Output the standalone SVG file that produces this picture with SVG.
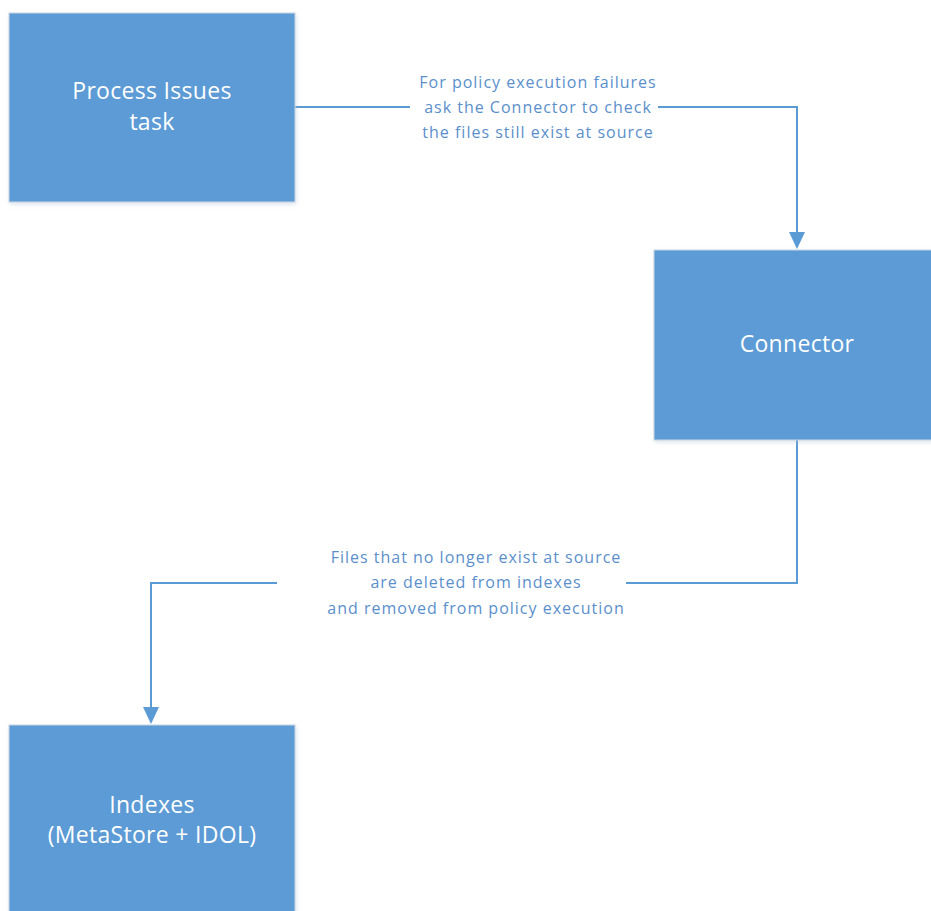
<svg xmlns="http://www.w3.org/2000/svg" width="931" height="911" viewBox="0 0 931 911">
<defs>
<style>
.node{fill:#5b9bd5;stroke:#c9d6e3;stroke-width:1}
.nt{font-family:"Open Sans","Noto Sans",sans-serif;font-size:23px;letter-spacing:0.3px;fill:#ffffff;text-anchor:middle}
.lbl{font-family:"Open Sans","Noto Sans",sans-serif;font-size:16px;letter-spacing:1px;fill:#5b8fcc;text-anchor:middle}
.edge{fill:none;stroke:#5b9bd5;stroke-width:2}
</style>
<filter id="sh" x="-10%" y="-10%" width="120%" height="120%">
<feDropShadow dx="1" dy="2" stdDeviation="2" flood-color="#9fb6cc" flood-opacity="0.35"/>
</filter>
</defs>
<rect width="931" height="911" fill="#ffffff"/>
<g id="connectors">
<g id="e1">
<path class="edge" d="M295,107 H410 M658,107 H797 V232"/>
<path d="M789,232 L805,232 L797,249 z" fill="#5b9bd5"/>
<text class="lbl" x="538" y="88">For policy execution failures</text>
<text class="lbl" x="538" y="113">ask the Connector to check</text>
<text class="lbl" x="538" y="138">the files still exist at source</text>
</g>
<g id="e2">
<path class="edge" d="M797,440 V583 H626 M277,583 H151 V707"/>
<path d="M143,707 L159,707 L151,724 z" fill="#5b9bd5"/>
<text class="lbl" x="476" y="563">Files that no longer exist at source</text>
<text class="lbl" x="476" y="588">are deleted from indexes</text>
<text class="lbl" x="476" y="614">and removed from policy execution</text>
</g>
</g>
<g id="process">
<rect class="node" x="9" y="13" width="286" height="189" filter="url(#sh)"/>
<text class="nt" x="152" y="99">Process Issues</text>
<text class="nt" x="152" y="130">task</text>
</g>
<g id="connector">
<rect class="node" x="654" y="250" width="290" height="190" filter="url(#sh)"/>
<text class="nt" x="797" y="352">Connector</text>
</g>
<g id="indexes">
<rect class="node" x="9" y="725" width="286" height="200" filter="url(#sh)"/>
<text class="nt" x="152" y="813">Indexes</text>
<text class="nt" x="152" y="843">(MetaStore + IDOL)</text>
</g>
</svg>
